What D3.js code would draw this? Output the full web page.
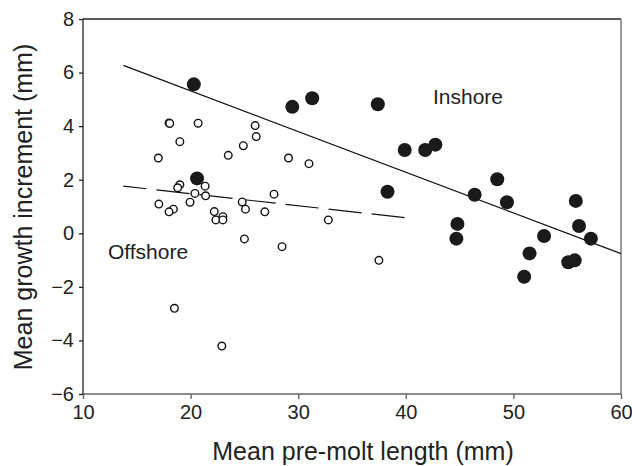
<!DOCTYPE html>
<html>
<head>
<meta charset="utf-8">
<script src="https://cdn.jsdelivr.net/npm/d3@7"></script>
<style>
    body { margin: 0; background: #fff; }
    text { font-family: "Liberation Sans", Arial, Helvetica, sans-serif; fill: #222; }
</style>
</head>
<body>
<div id="scatter"></div>
<script>
// Inshore (filled) points: pre-molt length, growth increment
var inshoreX = [20.3, 29.45, 31.3, 37.4, 20.6, 39.9, 41.8, 42.75, 38.3, 46.4, 48.5, 49.4,
    44.8, 44.7, 55.8, 56.1, 57.2, 52.85, 51.5, 51.0, 55.1, 55.7];
var inshoreY = [5.56, 4.72, 5.04, 4.82, 2.05, 3.11, 3.11, 3.31, 1.55, 1.44, 2.02, 1.16,
    0.35, -0.2, 1.21, 0.27, -0.2, -0.1, -0.75, -1.62, -1.08, -1.01];

// Offshore (open) points
var offshoreX = [18.0, 18.06, 20.7, 19.0, 17.0, 26.0, 26.1, 24.9, 23.5, 29.1, 31.0, 19.0,
    18.8, 21.35, 21.4, 20.4, 19.95, 17.05, 18.4, 18.0, 22.2, 23.0, 22.35, 23.0,
    24.8, 25.1, 27.75, 26.9, 32.8, 25.0, 28.5, 37.5, 18.5, 22.9];
var offshoreY = [4.12, 4.1, 4.11, 3.42, 2.81, 4.02, 3.61, 3.27, 2.91, 2.81, 2.6, 1.81,
    1.7, 1.76, 1.4, 1.49, 1.16, 1.09, 0.9, 0.8, 0.81, 0.62, 0.5, 0.5,
    1.17, 0.9, 1.46, 0.8, 0.5, -0.21, -0.5, -1.01, -2.8, -4.21];

// Regression line end points
var inshoreFitX = [13.75, 60];
var inshoreFitY = [6.27, -0.76];
var offshoreFitX = [13.75, 40];
var offshoreFitY = [1.76, 0.58];

var xTicks = [10, 20, 30, 40, 50, 60];
var yTicks = [-6, -4, -2, 0, 2, 4, 6, 8];

var svgWidth = 632;
var svgHeight = 466;
var margin = { top: 19, right: 11, bottom: 72, left: 83 };
var width = svgWidth - margin.left - margin.right;
var height = svgHeight - margin.top - margin.bottom;

var svg = d3.select('#scatter')
    .append('svg')
    .attr('width', svgWidth)
    .attr('height', svgHeight);
var chartGroup = svg.append('g')
    .attr('transform', `translate(${margin.left}, ${margin.top})`);

var xScale = d3.scaleLinear().domain([10, 60]).range([0, width]);
var yScale = d3.scaleLinear().domain([-6, 8]).range([height, 0]);

// Box: top and right edges
chartGroup.append('line')
    .attr('x1', 0).attr('x2', width).attr('y1', 0).attr('y2', 0)
    .attr('stroke', '#222').attr('stroke-width', 1.3);
chartGroup.append('line')
    .attr('x1', width).attr('x2', width).attr('y1', 0).attr('y2', height)
    .attr('stroke', '#707070').attr('stroke-width', 1.4);

// Axes
var bottomAxis = d3.axisBottom(xScale).tickValues(xTicks).tickSize(5).tickPadding(6);
var leftAxis = d3.axisLeft(yScale).tickValues(yTicks).tickSize(4).tickPadding(5)
    .tickFormat(d => d < 0 ? '\u2212' + Math.abs(d) : d);

var xAxis = chartGroup.append('g')
    .attr('transform', `translate(0, ${height})`)
    .call(bottomAxis);
xAxis.selectAll('path, line').attr('stroke', '#666').attr('stroke-width', 1.4);
xAxis.select('.domain').attr('d', `M0,0H${width}`);
xAxis.selectAll('text').attr('font-size', 20).style('fill', '#222');

var yAxis = chartGroup.append('g').call(leftAxis);
yAxis.selectAll('path, line').attr('stroke', '#222').attr('stroke-width', 1.3);
yAxis.select('.domain').attr('d', `M0,0V${height}`);
yAxis.selectAll('text').attr('font-size', 20).style('fill', '#222');

// Regression lines
var lineGen = d3.line()
    .x(d => xScale(d[0]))
    .y(d => yScale(d[1]));

chartGroup.append('path')
    .datum(d3.zip(inshoreFitX, inshoreFitY))
    .attr('d', lineGen)
    .attr('fill', 'none')
    .attr('stroke', '#111')
    .attr('stroke-width', 1.2);

chartGroup.append('path')
    .datum(d3.zip(offshoreFitX, offshoreFitY))
    .attr('d', lineGen)
    .attr('fill', 'none')
    .attr('stroke', '#111')
    .attr('stroke-width', 1.2)
    .attr('stroke-dasharray', '33.3,10')
    .attr('stroke-dashoffset', 10);

// Offshore open circles
chartGroup.append('g').selectAll('circle')
    .data(d3.zip(offshoreX, offshoreY))
    .enter()
    .append('circle')
    .attr('cx', d => xScale(d[0]))
    .attr('cy', d => yScale(d[1]))
    .attr('r', 3.8)
    .attr('fill', '#fff')
    .attr('stroke', '#111')
    .attr('stroke-width', 1.4);

// Inshore filled circles
chartGroup.append('g').selectAll('circle')
    .data(d3.zip(inshoreX, inshoreY))
    .enter()
    .append('circle')
    .attr('cx', d => xScale(d[0]))
    .attr('cy', d => yScale(d[1]))
    .attr('r', 7)
    .attr('fill', '#1a1a1a');

// Group labels
svg.append('text')
    .attr('x', 433)
    .attr('y', 104)
    .attr('font-size', 21)
    .text('Inshore');
svg.append('text')
    .attr('x', 108)
    .attr('y', 259)
    .attr('font-size', 21)
    .text('Offshore');

// Axis titles
svg.append('text')
    .attr('x', 363)
    .attr('y', 460)
    .attr('text-anchor', 'middle')
    .attr('font-size', 25)
    .text('Mean pre-molt length (mm)');
svg.append('text')
    .attr('transform', 'rotate(-90)')
    .attr('x', -207)
    .attr('y', 31.5)
    .attr('text-anchor', 'middle')
    .attr('font-size', 25)
    .text('Mean growth increment (mm)');
</script>
</body>
</html>
